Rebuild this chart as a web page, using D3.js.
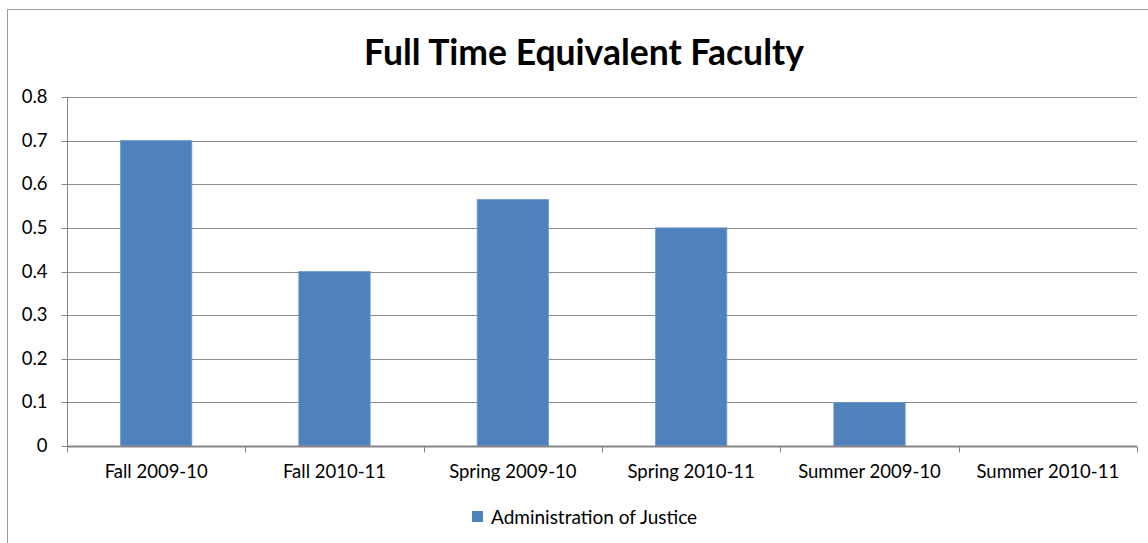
<!DOCTYPE html>
<html><head><meta charset="utf-8">
<script src="https://cdn.jsdelivr.net/npm/d3@7"></script>
<style>body{margin:0;background:#fff;} svg{display:block;}</style>
</head><body>
<script>
const categories = ["Fall 2009-10","Fall 2010-11","Spring 2009-10","Spring 2010-11","Summer 2009-10","Summer 2010-11"];
const values = [0.7, 0.4, 0.565, 0.5, 0.1, 0];
const yTicks = [0,0.1,0.2,0.3,0.4,0.5,0.6,0.7,0.8];
const seriesName = "Administration of Justice";
const title = "Full Time Equivalent Faculty";

(function(){
const W=1148,H=543;
const font = "Lato, 'Open Sans', sans-serif";
const svg = d3.select("body").append("svg").attr("width",W).attr("height",H);
svg.append("rect").attr("x",7.5).attr("y",9.5).attr("width",W).attr("height",H).attr("fill","#fff").attr("stroke","#9a9a9a").attr("stroke-width",1);

const pL=67,pR=1137,pT=97,pB=446;
const x = d3.scaleBand().domain(categories).range([pL,pR]).padding(0);
const y = d3.scaleLinear().domain([0,0.8]).range([pB,pT]);

svg.append("text").attr("x",584).attr("y",65).attr("text-anchor","middle")
  .attr("font-family",font).attr("font-weight","bold").attr("font-size",35.5).attr("fill","#000").text(title);

// gridlines
svg.append("g").selectAll("line").data(yTicks.filter(d=>d>0)).join("line")
  .attr("x1",pL).attr("x2",pR).attr("y1",d=>Math.round(y(d))+0.5).attr("y2",d=>Math.round(y(d))+0.5)
  .attr("stroke","#8c8c8c").attr("stroke-width",1);

// bars
const bw = x.bandwidth()*0.4;
svg.append("g").selectAll("rect").data(values).join("rect")
  .attr("x",(d,i)=>x(categories[i])+x.bandwidth()/2-bw/2)
  .attr("width",bw)
  .attr("y",d=>y(d)).attr("height",d=>pB-y(d))
  .attr("fill","#4f81bd").attr("stroke","#6f9ad0").attr("stroke-width",0.8);

// y axis
const yAxis = d3.axisLeft(y).tickValues(yTicks).tickSize(6).tickPadding(14).tickFormat(d=>d===0?"0":d3.format(".1f")(d));
const gy = svg.append("g").attr("transform",`translate(${pL+0.5},0.5)`).call(yAxis);
gy.select(".domain").attr("stroke","#868686").attr("d",`M0,${pT}V${pB}`);
gy.selectAll(".tick line").attr("stroke","#868686");
gy.selectAll(".tick text").attr("font-family",font).attr("font-size",18.5).attr("fill","#000");
gy.selectAll(".tick").attr("transform",d=>`translate(0,${Math.round(y(d))})`);

// x axis
const gx = svg.append("g").attr("transform",`translate(0,${pB+0.5})`);
gx.append("line").attr("x1",pL).attr("x2",pR).attr("stroke","#868686").attr("stroke-width",2);
const bounds = categories.map(c=>x(c)).concat([pR]);
gx.selectAll("line.tk").data(bounds).join("line").attr("class","tk")
  .attr("x1",d=>Math.round(d)+0.5).attr("x2",d=>Math.round(d)+0.5).attr("y1",0).attr("y2",6).attr("stroke","#868686");
gx.selectAll("text").data(categories).join("text")
  .attr("x",d=>x(d)+x.bandwidth()/2).attr("y",31).attr("text-anchor","middle")
  .attr("font-family",font).attr("font-size",18.5).attr("fill","#000").text(d=>d);

// legend
const lg = svg.append("g");
lg.append("rect").attr("x",472).attr("y",511).attr("width",11).attr("height",11).attr("fill","#4f81bd");
lg.append("text").attr("x",491).attr("y",524).attr("font-family",font).attr("font-size",19).attr("fill","#000").text(seriesName);
})();
</script>
</body></html>
